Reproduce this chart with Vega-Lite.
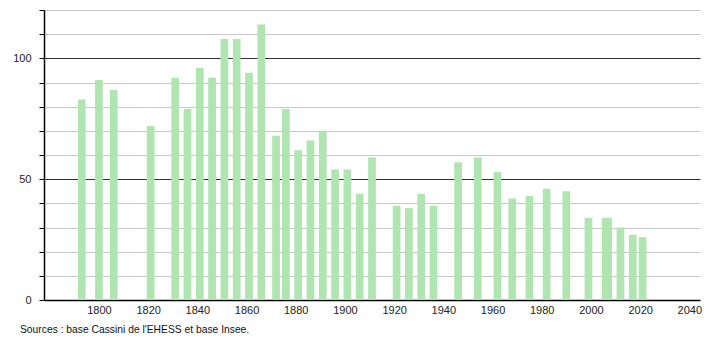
{
  "$schema": "https://vega.github.io/schema/vega-lite/v6.json",
  "autosize": "none",
  "width": 656,
  "height": 290,
  "padding": {"left": 44, "top": 10, "right": 10, "bottom": 40},
  "background": "white",
  "config": {
    "view": {"stroke": null},
    "font": "Liberation Sans",
    "axis": {"labelFont": "Liberation Sans", "labelFontSize": 11, "labelColor": "#222"}
  },
  "title": {
    "text": "Sources : base Cassini de l'EHESS et base Insee.",
    "orient": "bottom",
    "anchor": "start",
    "frame": "group",
    "fontSize": 10.3,
    "fontWeight": "normal",
    "color": "#111",
    "font": "Liberation Sans",
    "dx": -24,
    "offset": 10
  },
  "data": {
    "values": [
      {"year": 1793, "pop": 83},
      {"year": 1800, "pop": 91},
      {"year": 1806, "pop": 87},
      {"year": 1821, "pop": 72},
      {"year": 1831, "pop": 92},
      {"year": 1836, "pop": 79},
      {"year": 1841, "pop": 96},
      {"year": 1846, "pop": 92},
      {"year": 1851, "pop": 108},
      {"year": 1856, "pop": 108},
      {"year": 1861, "pop": 94},
      {"year": 1866, "pop": 114},
      {"year": 1872, "pop": 68},
      {"year": 1876, "pop": 79},
      {"year": 1881, "pop": 62},
      {"year": 1886, "pop": 66},
      {"year": 1891, "pop": 70},
      {"year": 1896, "pop": 54},
      {"year": 1901, "pop": 54},
      {"year": 1906, "pop": 44},
      {"year": 1911, "pop": 59},
      {"year": 1921, "pop": 39},
      {"year": 1926, "pop": 38},
      {"year": 1931, "pop": 44},
      {"year": 1936, "pop": 39},
      {"year": 1946, "pop": 57},
      {"year": 1954, "pop": 59},
      {"year": 1962, "pop": 53},
      {"year": 1968, "pop": 42},
      {"year": 1975, "pop": 43},
      {"year": 1982, "pop": 46},
      {"year": 1990, "pop": 45},
      {"year": 1999, "pop": 34},
      {"year": 2006, "pop": 34},
      {"year": 2007, "pop": 34},
      {"year": 2012, "pop": 30},
      {"year": 2017, "pop": 27},
      {"year": 2021, "pop": 26}
    ]
  },
  "mark": {"type": "bar", "size": 7.7, "color": "#b0e4b0"},
  "encoding": {
    "x": {
      "field": "year",
      "type": "quantitative",
      "scale": {"domain": [1779.7, 2042.3], "nice": false, "zero": false},
      "axis": {
        "title": null,
        "values": [1800, 1820, 1840, 1860, 1880, 1900, 1920, 1940, 1960, 1980, 2000, 2020, 2040],
        "format": "d",
        "ticks": false,
        "grid": false,
        "domainColor": "#000",
        "domainWidth": 1.5,
        "labelPadding": 4,
        "labelFlush": false,
        "labelOverlap": false
      }
    },
    "y": {
      "field": "pop",
      "type": "quantitative",
      "scale": {"domain": [0, 120], "nice": false},
      "axis": {
        "title": null,
        "values": [0, 10, 20, 30, 40, 50, 60, 70, 80, 90, 100, 110, 120],
        "labelExpr": "datum.value % 50 === 0 ? datum.label : ''",
        "domainColor": "#000",
        "domainWidth": 1.5,
        "tickColor": "#000",
        "tickSize": 5,
        "labelPadding": 8,
        "grid": true,
        "gridColor": {"condition": {"test": "datum.value === 50 || datum.value === 100", "value": "#333"}, "value": "#c8c8c8"},
        "gridWidth": 1
      }
    }
  }
}
